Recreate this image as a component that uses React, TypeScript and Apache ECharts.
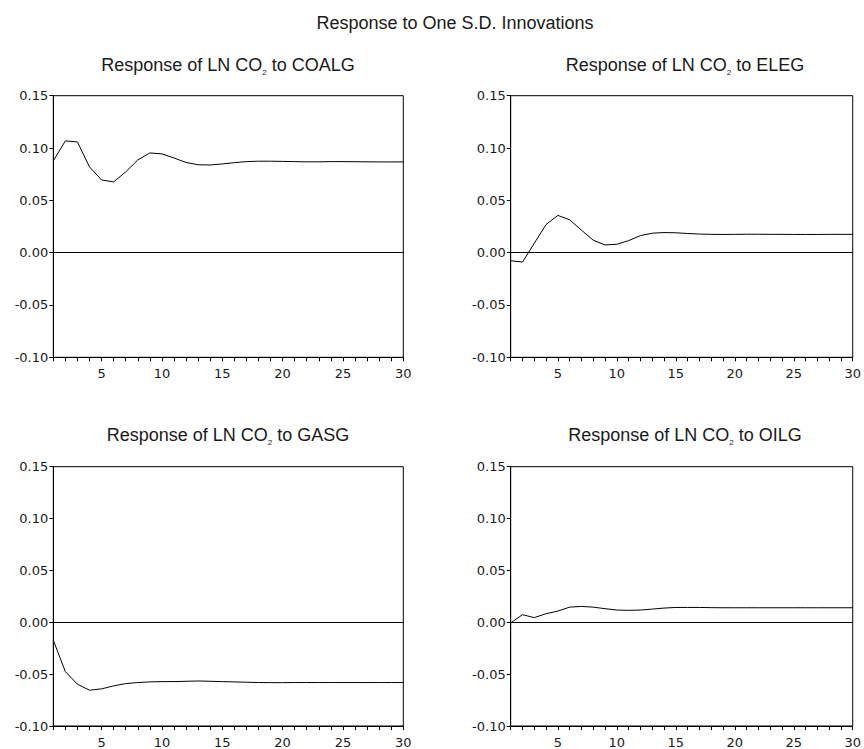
import React, { useEffect, useRef } from "react";
import * as echarts from "echarts";

// Periods (horizon)
const periods = [1, 2, 3, 4, 5, 6, 7, 8, 9, 10, 11, 12, 13, 14, 15, 16, 17, 18, 19, 20, 21, 22, 23, 24, 25, 26, 27, 28, 29, 30];

// Impulse responses
const coalg = [0.0877, 0.1068, 0.1058, 0.0819, 0.0695, 0.0676, 0.0772, 0.0886, 0.0953, 0.0944, 0.0905, 0.0862, 0.0840, 0.0838, 0.0848, 0.0860, 0.0870, 0.0874, 0.0874, 0.0872, 0.0870, 0.0868, 0.0868, 0.0870, 0.0870, 0.0869, 0.0868, 0.0867, 0.0867, 0.0867];
const eleg = [-0.0077, -0.0090, 0.0090, 0.0269, 0.0356, 0.0314, 0.0215, 0.0119, 0.0074, 0.0080, 0.0115, 0.0163, 0.0186, 0.0192, 0.0190, 0.0183, 0.0178, 0.0175, 0.0174, 0.0175, 0.0176, 0.0176, 0.0175, 0.0175, 0.0174, 0.0174, 0.0174, 0.0175, 0.0175, 0.0175];
const gasg = [-0.0173, -0.0476, -0.0597, -0.0655, -0.0642, -0.0613, -0.0591, -0.0581, -0.0575, -0.0572, -0.0572, -0.0569, -0.0566, -0.0569, -0.0572, -0.0575, -0.0578, -0.0581, -0.0582, -0.0582, -0.0581, -0.0581, -0.0581, -0.0581, -0.0581, -0.0581, -0.0581, -0.0581, -0.0581, -0.0581];
const oilg = [-0.0006, 0.0073, 0.0045, 0.0083, 0.0108, 0.0146, 0.0153, 0.0146, 0.0131, 0.0118, 0.0115, 0.0118, 0.0127, 0.0137, 0.0143, 0.0143, 0.0143, 0.0141, 0.0140, 0.0140, 0.0140, 0.0140, 0.0140, 0.0140, 0.0140, 0.0140, 0.0140, 0.0140, 0.0140, 0.0140];

const shockNames = ["COALG", "ELEG", "GASG", "OILG"];
const seriesValues = [coalg, eleg, gasg, oilg];
const zeroLevels = [0, -0.0023, -0.0023, -0.0023];

const xTickLabels = [5, 10, 15, 20, 25, 30];
const yMin = -0.1;
const yMax = 0.15;
const yStep = 0.05;

const mainTitle = "Response to One S.D. Innovations";

// Layout (pixels)
const panels = [
  { left: 53.3, top: 95.7, width: 350, height: 261.6, titleX: 228, titleY: 65 },
  { left: 510.7, top: 95.7, width: 348.4, height: 261.6, titleX: 685, titleY: 65 },
  { left: 53.3, top: 466.7, width: 350, height: 261.6, titleX: 228, titleY: 435 },
  { left: 510.7, top: 466.7, width: 348.4, height: 261.6, titleX: 685, titleY: 435 },
];

const TEXT = "#1a1a1a";
const FONT = "'Liberation Sans', Arial, sans-serif";
const TICK_FONT = "'DejaVu Sans', sans-serif";

export default function App() {
  const ref = useRef<HTMLDivElement>(null);

  useEffect(() => {
    if (!ref.current) return;
    const chart = echarts.init(ref.current, undefined, { renderer: "svg" });

    const grid = panels.map((p) => ({
      left: p.left,
      top: p.top,
      width: p.width,
      height: p.height,
      show: true,
      borderColor: "#000",
      borderWidth: 1,
      backgroundColor: "#fff",
      containLabel: false,
    }));

    const xAxis = panels.map((_, i) => ({
      type: "value",
      gridIndex: i,
      min: 1,
      max: 30,
      interval: 1,
      axisLine: { show: true, onZero: false, lineStyle: { color: "#000", width: 1 } },
      axisTick: { show: true, length: 4, lineStyle: { color: "#000", width: 1 } },
      axisLabel: {
        margin: 10,
        fontSize: 13,
        fontFamily: TICK_FONT,
        color: TEXT,
        formatter: (v: number) => (xTickLabels.indexOf(Math.round(v)) >= 0 ? String(Math.round(v)) : ""),
      },
      splitLine: { show: false },
    }));

    const yAxis = panels.map((_, i) => ({
      type: "value",
      gridIndex: i,
      min: yMin,
      max: yMax,
      interval: yStep,
      axisLine: { show: true, onZero: false, lineStyle: { color: "#000", width: 1 } },
      axisTick: { show: true, length: 4, lineStyle: { color: "#000", width: 1 } },
      axisLabel: {
        margin: 5,
        fontSize: 13,
        fontFamily: TICK_FONT,
        color: TEXT,
        formatter: (v: number) => (Math.abs(v) < 1e-9 ? "0.00" : v.toFixed(2)),
      },
      splitLine: { show: false },
    }));

    const series = seriesValues.map((vals, i) => ({
      type: "line",
      xAxisIndex: i,
      yAxisIndex: i,
      data: periods.map((p, k) => [p, vals[k]]),
      symbol: "none",
      lineStyle: { color: "#000", width: 1 },
      silent: true,
      markLine: {
        silent: true,
        symbol: "none",
        label: { show: false },
        lineStyle: { color: "#000", width: 1, type: "solid" },
        data: [{ yAxis: zeroLevels[i] }],
      },
    }));

    const graphic: any[] = [
      {
        type: "text",
        x: 455,
        y: 23,
        style: {
          text: mainTitle,
          fontSize: 18,
          fontFamily: FONT,
          fill: TEXT,
          align: "center",
          verticalAlign: "middle",
        },
      },
    ];
    panels.forEach((p, i) => {
      graphic.push({
        type: "text",
        x: p.titleX,
        y: p.titleY,
        style: {
          text: `{a|Response of LN CO}{sub|2}{a| to ${shockNames[i]}}`,
          fill: TEXT,
          align: "center",
          verticalAlign: "middle",
          fontFamily: FONT,
          fontSize: 18,
          rich: {
            a: { fontSize: 18, fontFamily: FONT, fill: TEXT, lineHeight: 22, verticalAlign: "middle" },
            sub: { fontSize: 8, fontFamily: FONT, fill: TEXT, lineHeight: 14, verticalAlign: "bottom" },
          },
        },
      });
    });

    chart.setOption({
      animation: false,
      backgroundColor: "#fff",
      grid,
      xAxis,
      yAxis,
      series,
      graphic,
    } as any);

    return () => chart.dispose();
  }, []);

  return (
    <div
      ref={ref}
      style={{ position: "fixed", left: 0, top: 0, width: 864, height: 749, background: "#fff" }}
    />
  );
}
